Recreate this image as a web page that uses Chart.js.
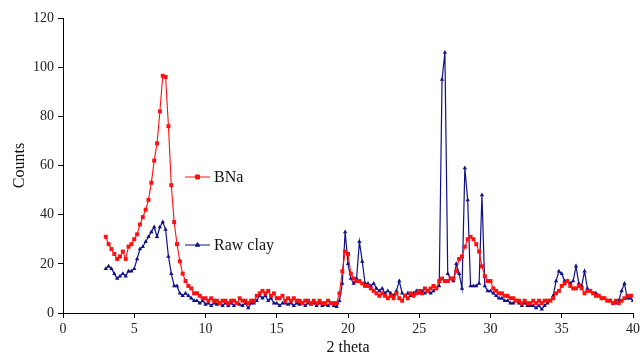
<!DOCTYPE html>
<html>
<head>
<meta charset="utf-8">
<script src="https://cdn.jsdelivr.net/npm/chart.js@4/dist/chart.umd.min.js"></script>
<style>
  html, body { margin: 0; padding: 0; background: #fff; }
  #wrap { width: 643px; height: 358px; }
</style>
</head>
<body>
<div id="wrap"><canvas id="xrd"></canvas></div>
<script>
// scan: 2 theta from 3 to 40 deg, step 0.2
var start = 3.0;
var step = 0.2;

var bna = [
  31, 28, 26, 24, 22,
  23, 25, 22, 27, 28,
  30, 32, 36, 39, 42,
  46, 53, 62, 69, 82,
  96.5, 96, 76, 52, 37,
  28, 21, 16, 13, 11,
  10, 8, 8, 7, 6,
  6, 5, 6, 5, 5,
  4, 5, 5, 4, 5,
  5, 4, 6, 5, 5,
  4, 5, 5, 7, 8,
  9, 8, 9, 7, 8,
  6, 6, 7, 5, 6,
  5, 6, 5, 5, 4,
  5, 5, 4, 5, 4,
  5, 4, 4, 5, 4,
  4, 4, 8, 17, 25,
  24, 16, 14, 13, 13,
  12, 11, 11, 10, 9,
  8, 7, 8, 7, 6,
  7, 6, 8, 6, 5,
  7, 6, 8, 7, 8,
  9, 8, 10, 9, 10,
  11, 10, 13, 14, 13,
  13, 14, 14, 17, 22,
  23, 27, 30, 31, 30,
  28, 25, 19, 15, 13,
  13, 10, 9, 8, 8,
  7, 7, 6, 6, 5,
  5, 4, 5, 4, 4,
  5, 4, 5, 4, 5,
  5, 5, 6, 8, 9,
  11, 12, 13, 11, 10,
  10, 11, 10, 8, 9,
  9, 8, 7, 7, 6,
  6, 5, 5, 4, 5,
  4, 5, 6, 7, 7,
  7
];

var rawClay = [
  18, 19, 18, 16, 14,
  15, 16, 15, 17, 17,
  18, 22, 26, 27, 29,
  31, 33, 35, 31, 35,
  37, 34, 23, 16, 11,
  11, 8, 7, 8, 7,
  6, 5, 5, 4, 5,
  3.5, 4, 3, 4, 3.5,
  4, 3, 4, 3, 4,
  3, 4, 3.5, 3, 4,
  2, 4, 4, 5, 7,
  6, 7, 5, 6, 4,
  4, 3, 4, 4, 3.5,
  4, 3, 4, 3.5, 4,
  3, 4, 3.5, 4, 3,
  4, 3, 3.5, 3, 4,
  3, 2.5, 5, 12, 33,
  20, 14, 12, 14, 29,
  21, 12, 12, 11, 12,
  10, 9, 10, 8, 9,
  8, 7, 9, 13, 8,
  7, 8, 7, 8, 9,
  8, 9, 8, 9, 8,
  9, 10, 11, 95, 106,
  16, 14, 13, 20, 16,
  10, 59, 46, 11, 11,
  11, 12, 48, 11, 9,
  9, 8, 7, 6, 6,
  5, 5, 4, 4, 5,
  4, 3, 4, 3, 3,
  3, 2, 3, 1.5, 3,
  4, 5, 7, 13, 17,
  16, 13, 13, 12, 13,
  19, 12, 11, 17, 10,
  9, 8, 8, 7, 6,
  6, 5, 5, 4, 4,
  5, 9, 12, 6, 6,
  5
];

var seriesNames = ["BNa", "Raw clay"];
var xTicks = [0, 5, 10, 15, 20, 25, 30, 35, 40];
var yTicks = [0, 20, 40, 60, 80, 100, 120];

function toPoints(arr) {
  var pts = [];
  for (var i = 0; i < arr.length; i++) {
    pts.push({ x: Math.round((start + i * step) * 10) / 10, y: arr[i] });
  }
  return pts;
}

var serif = "'Liberation Serif', 'DejaVu Serif', serif";

// legend drawn inside the plot, like the original
var insideLegend = {
  id: "insideLegend",
  afterDatasetsDraw: function (chart) {
    var ctx = chart.ctx;
    var rows = [{ y: 177 }, { y: 245 }];
    ctx.save();
    for (var i = 0; i < chart.data.datasets.length; i++) {
      var ds = chart.data.datasets[i];
      var y = rows[i].y;
      ctx.strokeStyle = ds.borderColor;
      ctx.lineWidth = 1;
      ctx.beginPath();
      ctx.moveTo(185, y);
      ctx.lineTo(210, y);
      ctx.stroke();
      ctx.fillStyle = ds.pointBackgroundColor;
      ctx.strokeStyle = ds.borderColor;
      Chart.helpers.drawPoint(ctx, { pointStyle: ds.pointStyle, radius: ds.pointRadius, rotation: 0, borderWidth: 1 }, 197.5, y);
      ctx.fillStyle = "#111";
      ctx.font = "16px " + serif;
      ctx.textBaseline = "middle";
      ctx.textAlign = "left";
      ctx.fillText(ds.label, 214, y + 1);
    }
    ctx.restore();
  }
};

var config = {
  type: "line",
  data: {
    datasets: [
      {
        label: seriesNames[0],
        data: toPoints(bna),
        borderColor: "#ff1010",
        backgroundColor: "#ff1010",
        pointBackgroundColor: "#ff1010",
        borderWidth: 1.1,
        pointStyle: "rect",
        pointRadius: 2.8,
        pointBorderWidth: 0,
        tension: 0
      },
      {
        label: seriesNames[1],
        data: toPoints(rawClay),
        borderColor: "#10108a",
        backgroundColor: "#10108a",
        pointBackgroundColor: "#10108a",
        borderWidth: 1.2,
        pointStyle: "triangle",
        pointRadius: 2.5,
        pointBorderWidth: 0,
        tension: 0
      }
    ]
  },
  options: {
    responsive: true,
    maintainAspectRatio: false,
    animation: false,
    layout: { padding: { top: 18, right: 9, left: 0, bottom: 0 } },
    plugins: { legend: { display: false }, tooltip: { enabled: false } },
    scales: {
      x: {
        type: "linear",
        min: 0,
        max: 40,
        afterBuildTicks: function (scale) {
          scale.ticks = xTicks.map(function (v) { return { value: v }; });
        },
        afterFit: function (scale) { scale.height = 45; },
        border: { color: "#000", width: 1 },
        grid: { drawOnChartArea: false, drawTicks: true, tickLength: 5, color: "#000" },
        ticks: { color: "#222", font: { family: serif, size: 14 }, padding: 3, maxRotation: 0 },
        title: { display: true, text: "2 theta", color: "#111", font: { family: serif, size: 16 }, padding: { top: 0, bottom: 1 } }
      },
      y: {
        min: 0,
        max: 120,
        afterBuildTicks: function (scale) {
          scale.ticks = yTicks.map(function (v) { return { value: v }; });
        },
        afterFit: function (scale) { scale.width = 63; },
        border: { color: "#000", width: 1 },
        grid: { drawOnChartArea: false, drawTicks: true, tickLength: 5, color: "#000" },
        ticks: { color: "#222", font: { family: serif, size: 14 }, padding: 4 },
        title: { display: true, text: "Counts", color: "#111", font: { family: serif, size: 16 }, padding: { top: 10, bottom: 0 } }
      }
    }
  },
  plugins: [insideLegend]
};

var xrdChart = new Chart(document.getElementById("xrd"), config);
</script>
</body>
</html>
